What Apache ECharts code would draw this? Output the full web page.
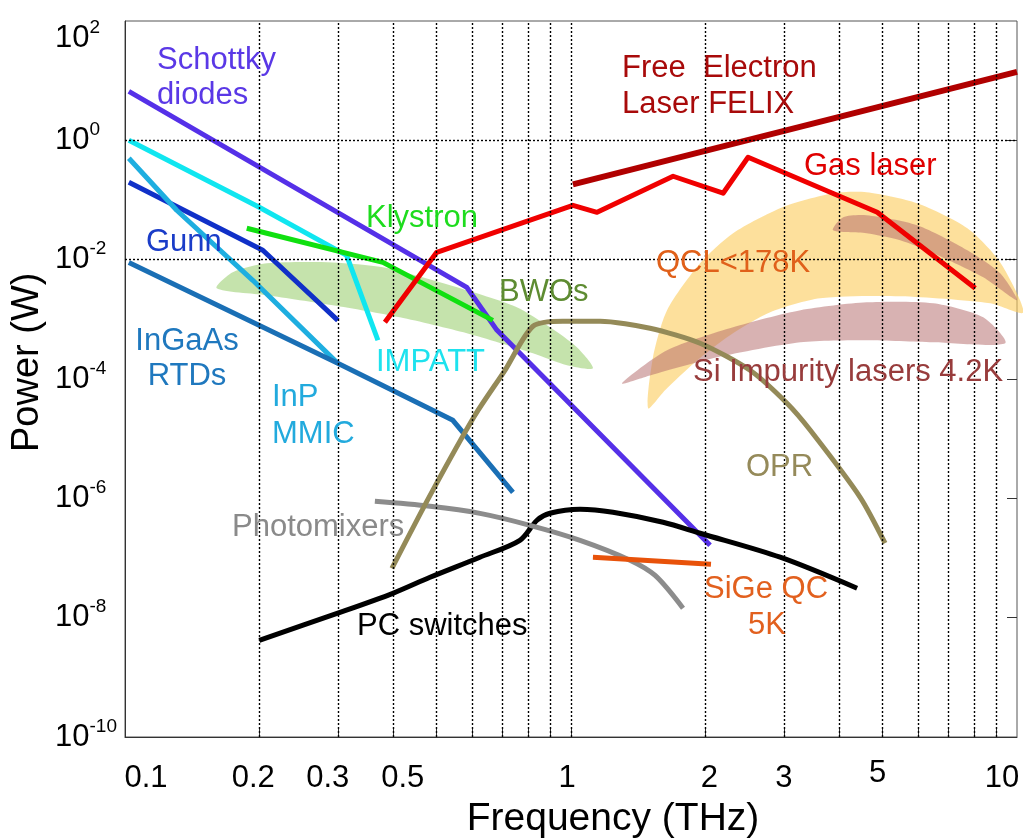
<!DOCTYPE html>
<html>
<head>
<meta charset="utf-8">
<script src="https://cdn.jsdelivr.net/npm/echarts@6/dist/echarts.min.js"></script>
<style>
  html, body { margin: 0; padding: 0; background: #ffffff; }
  #chart { width: 1023px; height: 840px; }
</style>
</head>
<body>
<div id="chart"></div>
<script>
// ---- axes: tick labels and grid positions (THz, W) ----
const xTickValues = [0.1, 0.2, 0.3, 0.5, 1, 2, 3, 5, 10];
const xTickText = ['0.1', '0.2', '0.3', '0.5', '1', '2', '3', '5', '10'];
const xGridValues = [0.2, 0.3, 0.4, 0.5, 0.6, 0.7, 0.8, 0.9, 1, 2, 3, 4, 5, 6, 7, 8, 9];
const yTickValues = [1e2, 1e0, 1e-2, 1e-4, 1e-6, 1e-8, 1e-10];
const yTickExponents = ['2', '0', '-2', '-4', '-6', '-8', '-10'];
const yGridValues = [1e0, 1e-2, 1e-4, 1e-6, 1e-8];

// ---- source curves: [frequency THz, power W] ----
const schottky = [[0.102, 6.6], [0.584, 3.44e-3], [0.682, 6.6e-4], [2.05, 1.63e-7]];
const gunn = [[0.102, 0.198], [0.2037, 0.01436], [0.3, 9.6e-4]];
const inpMmic = [[0.102, 0.5], [0.1306, 0.0673], [0.1934, 4.51e-3], [0.3, 1.83e-4]];
const ingaasRtd = [[0.102, 9.0e-3], [0.3, 1.83e-4], [0.5435, 2.03e-5], [0.741, 1.26e-6]];
const impatt = [[0.102, 1.0], [0.2, 0.0755], [0.314, 0.0118], [0.369, 4.46e-4]];
const klystron = [[0.1875, 0.0336], [0.3787, 9.0e-3], [0.668, 9.6e-4]];
const gasLaser = [[0.3826, 8.9e-4], [0.5, 0.0133], [1.01, 0.0815], [1.144, 0.0622], [1.694, 0.25],
                  [2.193, 0.13], [2.495, 0.52], [4.86, 0.0622], [8.06, 3.31e-3]];
const felix = [[1.01, 0.183], [10, 14]];
const opr = [[0.3967, 6.7e-8], [0.483, 1.12e-6], [0.609, 2.47e-5], [0.711, 1.4e-4], [0.8217, 7.65e-4],
             [0.959, 9.27e-4], [1.162, 9.27e-4], [1.504, 7.08e-4], [1.947, 3.97e-4], [2.52, 1.4e-4],
             [3.05, 3.92e-5], [3.44, 1.38e-5], [4.45, 1.04e-6], [5.06, 1.77e-7]];
const photomixers = [[0.3633, 8.9e-7], [0.483, 7.36e-7], [0.625, 5.6e-7], [0.809, 3.53e-7],
                     [1.048, 1.98e-7], [1.356, 9.2e-8], [1.544, 5.1e-8], [1.783, 1.44e-8]];
const pcSwitches = [[0.2, 4.18e-9], [0.3, 1.19e-8], [0.3987, 2.56e-8], [0.483, 4.75e-8], [0.625, 1.03e-7],
                    [0.768, 1.98e-7], [0.839, 4.29e-7], [0.897, 5.62e-7], [1.048, 6.56e-7],
                    [1.242, 5.84e-7], [1.609, 3.97e-7], [1.947, 2.6e-7], [2.944, 1.03e-7], [4.38, 3.11e-8]];
const sigeQc = [[1.12, 1.03e-7], [2.06, 7.85e-8]];

// ---- source regions (closed outlines) ----
const bwoBand = [[0.1606, 3.31e-3], [0.1744, 6.14e-3], [0.2079, 8.69e-3], [0.2924, 9.0e-3], [0.3787, 7.45e-3],
                 [0.4901, 4.51e-3], [0.6348, 2.53e-3], [0.7561, 1.59e-3], [0.8974, 7.36e-4], [1.031, 3.4e-4],
                 [1.12, 1.51e-4], [0.9795, 1.7e-4], [0.8217, 2.7e-4], [0.5843, 5.83e-4], [0.4135, 1.08e-3],
                 [0.2924, 1.72e-3], [0.2079, 2.53e-3]];
const qclBand = [[1.489, 3.23e-5], [1.527, 2.31e-4], [1.642, 1.42e-3], [1.947, 8.69e-3], [2.309, 0.0277],
                 [2.98, 0.0755], [3.87, 0.1295], [4.6, 0.1346], [5.97, 0.0881], [7.74, 0.0336], [9.17, 9.0e-3],
                 [10.33, 1.31e-3], [8.71, 1.86e-3], [5.47, 2.43e-3], [3.62, 2.25e-3], [2.796, 1.31e-3],
                 [2.274, 5.4e-4], [1.897, 1.91e-4], [1.625, 6.47e-5]];
const siImpurityBand = [[1.301, 8.47e-5], [1.642, 3.03e-4], [2.309, 7.36e-4], [3.27, 1.42e-3], [4.6, 1.93e-3],
                        [6.49, 1.86e-3], [8.4, 1.08e-3], [9.41, 3.97e-4], [6.49, 4.12e-4], [4.6, 4.46e-4],
                        [3.27, 4.12e-4], [2.126, 2.31e-4], [1.504, 1.15e-4]];
const upperLaserBand = [[3.87, 0.031], [4.076, 0.0513], [4.6, 0.0554], [5.97, 0.0377], [7.74, 0.01436],
                        [9.17, 5.91e-3], [10.0, 2.09e-3], [8.4, 5.07e-3], [6.49, 0.0128], [5.47, 0.0211],
                        [4.6, 0.0277]];

const FONT = '"Liberation Sans", Arial, Helvetica, sans-serif';

// per-label nudges of the frequency tick labels [dx, dy] in px
const xLabelNudge = [[21, 0], [-6, 0], [-10, 0], [-34, 0], [-4, 0], [4, 0], [0, 0], [-5, -5], [-15, 0]];

const xRich = {};
xLabelNudge.forEach(([dx, dy], i) => {
  xRich['x' + i] = {
    fontSize: 31, fontFamily: FONT, color: '#000',
    padding: [5 + dy, dx < 0 ? -2 * dx : 0, 0, dx > 0 ? 2 * dx : 0]
  };
});

function nearestIndex(list, v) {
  let best = 0, bd = Infinity;
  list.forEach((t, i) => {
    const d = Math.abs(Math.log10(t) - Math.log10(v));
    if (d < bd) { bd = d; best = i; }
  });
  return best;
}

function lineSeries(name, data, color, width, extra) {
  return Object.assign({
    type: 'line', name, data, showSymbol: false, symbol: 'none', silent: true,
    lineStyle: { color, width, cap: 'butt', join: 'round' },
    z: 3, clip: false
  }, extra || {});
}

function bandSeries(name, pts, fill, z) {
  return {
    type: 'custom', name, coordinateSystem: 'cartesian2d', silent: true, clip: false,
    z, data: pts, encode: { x: 0, y: 1 },
    renderItem(params, api) {
      if (params.dataIndex !== 0) return null;
      const points = pts.map(p => api.coord(p));
      return { type: 'polygon', shape: { points, smooth: 0.25 }, style: { fill, stroke: null } };
    }
  };
}

const notes = [
  { t: 'Schottky', x: 157, y: 60, c: '#5A38E6' },
  { t: 'diodes', x: 157, y: 95, c: '#5A38E6' },
  { t: 'Gunn', x: 146, y: 242, c: '#1A3CC8' },
  { t: 'Klystron', x: 366, y: 218, c: '#1EDC1E' },
  { t: 'BWOs', x: 499, y: 292, c: '#5E8C32' },
  { t: 'IMPATT', x: 376, y: 362, c: '#1EE2EE' },
  { t: 'InGaAs', x: 187, y: 341, c: '#1F78BE', a: 'center' },
  { t: 'RTDs', x: 187, y: 376, c: '#1F78BE', a: 'center' },
  { t: 'InP', x: 272, y: 397, c: '#22AADD' },
  { t: 'MMIC', x: 272, y: 434, c: '#22AADD' },
  { t: 'Photomixers', x: 232, y: 527, c: '#8A8A8A' },
  { t: 'PC switches', x: 357, y: 626, c: '#000000' },
  { t: 'SiGe QC', x: 766, y: 589, c: '#E2601E', a: 'center' },
  { t: '5K', x: 767, y: 625, c: '#E2601E', a: 'center' },
  { t: 'OPR', x: 746, y: 467, c: '#958A5A' },
  { t: 'Si Impurity lasers 4.2K', x: 693, y: 372, c: '#983C3C' },
  { t: 'QCL<178K', x: 656, y: 263, c: '#E0601A' },
  { t: 'Gas laser', x: 804, y: 166, c: '#E00000' },
  { t: 'Free  Electron', x: 622, y: 68, c: '#A80A0A' },
  { t: 'Laser FELIX', x: 622, y: 104, c: '#A80A0A' }
];

const chart = echarts.init(document.getElementById('chart'), null, { renderer: 'canvas' });

const yBase = { fontSize: 31, fontFamily: FONT, color: '#000', lineHeight: 40, verticalAlign: 'middle' };
const ySup = { fontSize: 19, fontFamily: FONT, color: '#000', lineHeight: 20, verticalAlign: 'top' };

const option = {
  animation: false,
  backgroundColor: '#ffffff',
  grid: {
    left: 125, top: 21, width: 892, height: 716,
    show: true, borderColor: '#555', borderWidth: 1, backgroundColor: 'transparent',
    outerBoundsMode: 'none'
  },
  xAxis: {
    type: 'log', logBase: 10, min: 0.1, max: 10,
    axisLine: { show: true, lineStyle: { color: '#333', width: 1 } },
    axisTick: { show: true, inside: true, length: 8, customValues: xGridValues, lineStyle: { color: '#333' } },
    splitLine: { show: false },
    minorTick: { show: false },
    axisLabel: {
      show: true, margin: 21, customValues: xTickValues,
      formatter: (v) => { const i = nearestIndex(xTickValues, v); return '{x' + i + '|' + xTickText[i] + '}'; },
      rich: xRich
    }
  },
  yAxis: [{
    type: 'log', logBase: 10, min: 1e-10, max: 1e2,
    axisLine: { show: true, lineStyle: { color: '#333', width: 1 } },
    axisTick: { show: false },
    splitLine: { show: false },
    axisLabel: {
      show: true, align: 'left', margin: 70, customValues: yTickValues,
      formatter: (v) => {
        const i = nearestIndex(yTickValues, v);
        return i === 0 ? '{b2|10}{s2|' + yTickExponents[i] + '}' : '{b|10}{s|' + yTickExponents[i] + '}';
      },
      rich: {
        b: yBase,
        s: ySup,
        b2: Object.assign({}, yBase, { padding: [34, 0, 0, 0] }),
        s2: Object.assign({}, ySup, { padding: [17, 0, 0, 0] })
      }
    }
  }, {
    type: 'log', logBase: 10, min: 1e-10, max: 1e2, position: 'right',
    axisLine: { show: false },
    axisTick: { show: true, inside: true, length: 10, customValues: yGridValues, lineStyle: { color: '#333' } },
    axisLabel: { show: false },
    splitLine: { show: false }
  }],
  series: [
    {
      type: 'line', name: 'grid', data: [], silent: true, z: 1,
      markLine: {
        silent: true, symbol: ['none', 'none'], animation: false,
        label: { show: false },
        lineStyle: { color: '#000', width: 1.4, type: [2, 2] },
        data: xGridValues.map(v => ({ xAxis: v })).concat(yGridValues.map(v => ({ yAxis: v })))
      }
    },
    bandSeries('QCL<178K', qclBand, 'rgba(252,205,95,0.62)', 2),
    bandSeries('Si Impurity lasers 4.2K', siImpurityBand, 'rgba(180,108,108,0.52)', 2),
    bandSeries('Si Impurity lasers (upper)', upperLaserBand, 'rgba(180,108,108,0.52)', 2),
    lineSeries('Schottky diodes', schottky, '#5530E8', 5),
    lineSeries('Gunn', gunn, '#1030C8', 5),
    lineSeries('InP MMIC', inpMmic, '#1EAEE0', 5),
    lineSeries('InGaAs RTDs', ingaasRtd, '#1A6FB5', 5),
    bandSeries('BWOs', bwoBand, 'rgba(140,200,90,0.5)', 3),
    lineSeries('IMPATT', impatt, '#10E6F0', 5, { z: 4 }),
    lineSeries('Klystron', klystron, '#10E010', 5, { z: 4 }),
    lineSeries('Gas laser', gasLaser, '#F00000', 5, { z: 4 }),
    lineSeries('Free Electron Laser FELIX', felix, '#B00000', 6, { z: 4 }),
    lineSeries('PC switches', pcSwitches, '#000000', 5, { z: 4, smooth: 0.3 }),
    lineSeries('Photomixers', photomixers, '#8C8C8C', 5, { z: 4, smooth: 0.3 }),
    lineSeries('OPR', opr, '#948A58', 5, { z: 4, smooth: 0.25 }),
    lineSeries('SiGe QC 5K', sigeQc, '#E8520A', 5, { z: 4 })
  ],
  graphic: notes.map(n => ({
    type: 'text', x: n.x, y: n.y, z: 100, silent: true,
    style: { text: n.t, fill: n.c, font: '31px ' + FONT, textAlign: n.a || 'left', textVerticalAlign: 'middle' }
  })).concat([
    {
      type: 'text', x: 613, y: 819, z: 100, silent: true,
      style: { text: 'Frequency (THz)', fill: '#000', font: '39px ' + FONT, textAlign: 'center', textVerticalAlign: 'middle' }
    },
    {
      type: 'text', x: 28, y: 452, rotation: Math.PI / 2, z: 100, silent: true,
      style: { text: 'Power (W)', fill: '#000', font: '38px ' + FONT, textAlign: 'left', textVerticalAlign: 'middle' }
    }
  ])
};

chart.setOption(option);
</script>
</body>
</html>
